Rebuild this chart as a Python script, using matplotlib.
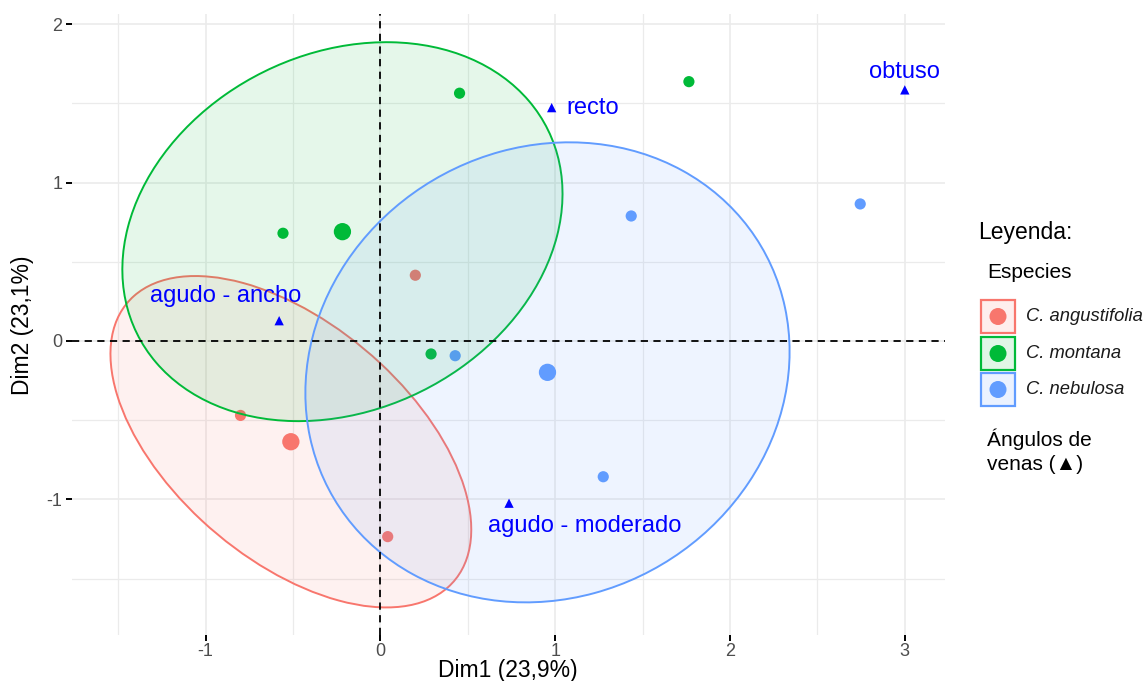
import numpy as np
import matplotlib
matplotlib.use('Agg')
import matplotlib.pyplot as plt
from matplotlib.patches import Ellipse, Rectangle

plt.rcParams['font.family'] = ['Liberation Sans', 'DejaVu Sans']

# ---------------- data ----------------
species = ['C. angustifolia', 'C. montana', 'C. nebulosa']
colors = ['#F8766D', '#00BA38', '#619CFF']

ang_x = [-0.80, 0.042, 0.20]
ang_y = [-0.47, -1.235, 0.415]
mon_x = [-0.557, 0.453, 1.765, 0.29]
mon_y = [0.68, 1.564, 1.637, -0.082]
neb_x = [0.428, 1.275, 1.435, 2.745]
neb_y = [-0.093, -0.857, 0.789, 0.865]

centroid_x = [-0.512, -0.217, 0.956]
centroid_y = [-0.636, 0.690, -0.198]

# ellipse half-extents along x / y and correlation
ell_sx = [1.032, 1.259, 1.385]
ell_sy = [1.046, 1.196, 1.452]
ell_r = [-0.53, 0.20, 0.09]

angle_labels = ['agudo - ancho', 'recto', 'obtuso', 'agudo - moderado']
angle_x = [-0.579, 0.98, 3.0, 0.736]
angle_y = [0.128, 1.473, 1.585, -1.024]
label_x = [-0.883, 1.063, 3.0, 1.17]
label_y = [0.284, 1.473, 1.70, -1.168]
label_ha = ['center', 'left', 'center', 'center']

x_ticks = [-1, 0, 1, 2, 3]
y_ticks = [-1, 0, 1, 2]
x_minor = [-1.5, -0.5, 0.5, 1.5, 2.5]
y_minor = [-1.5, -0.5, 0.5, 1.5]

W, H = 1144, 681
fig = plt.figure(figsize=(W / 100, H / 100), dpi=100)
ax = fig.add_axes([72 / W, 46 / H, 873 / W, 621 / H])
ax.set_xlim(-1.764, 3.23)
ax.set_ylim(-1.856, 2.064)

# grid
for v in x_ticks:
    ax.axvline(v, color='#EBEBEB', lw=1.2, zorder=0)
for v in x_minor:
    ax.axvline(v, color='#EBEBEB', lw=0.9, zorder=0)
for v in y_ticks:
    ax.axhline(v, color='#EBEBEB', lw=1.2, zorder=0)
for v in y_minor:
    ax.axhline(v, color='#EBEBEB', lw=0.9, zorder=0)

for s in ax.spines.values():
    s.set_visible(False)
ax.set_xticks(x_ticks)
ax.set_yticks(y_ticks)
ax.set_xticklabels([str(t) for t in x_ticks])
ax.set_yticklabels([str(t) for t in y_ticks])
ax.tick_params(axis='both', length=4, width=1.4, color='black',
               labelsize=13, labelcolor='#4D4D4D', pad=3)
ax.tick_params(axis='x', pad=2)

# individuals
groups_x = [ang_x, mon_x, neb_x]
groups_y = [ang_y, mon_y, neb_y]
for gx, gy, c in zip(groups_x, groups_y, colors):
    ax.scatter(gx, gy, s=65, color=c, edgecolors='none', zorder=2)
ax.scatter(centroid_x, centroid_y, s=155, c=colors, edgecolors='none', zorder=2)

# ellipses
for cx, cy, sx, sy, r, c in zip(centroid_x, centroid_y, ell_sx, ell_sy, ell_r, colors):
    S = np.array([[sx * sx, r * sx * sy], [r * sx * sy, sy * sy]])
    vals, vecs = np.linalg.eigh(S)
    vmax = vecs[:, 1]
    ang = np.degrees(np.arctan2(vmax[1], vmax[0]))
    w = 2 * np.sqrt(vals[1])
    h = 2 * np.sqrt(vals[0])
    ax.add_patch(Ellipse((cx, cy), w, h, angle=ang, facecolor=c, alpha=0.1,
                         edgecolor='none', zorder=3))
    ax.add_patch(Ellipse((cx, cy), w, h, angle=ang, facecolor='none',
                         edgecolor=c, lw=1.4, zorder=3))

# reference lines
ax.axhline(0, color='black', lw=1.3, ls=(0, (4, 3)), zorder=4)
ax.axvline(0, color='black', lw=1.3, ls=(0, (4, 3)), zorder=4)

# vein angle categories
ax.scatter(angle_x, angle_y, marker='^', s=45, color='#0000FF', edgecolors='none', zorder=5)
for t, lx, ly, ha in zip(angle_labels, label_x, label_y, label_ha):
    ax.text(lx, ly, t, color='#0000FF', fontsize=17, ha=ha, va='center', zorder=6)

fig.text(508 / W, 1 - 670 / H, 'Dim1 (23,9%)', fontsize=16.5, ha='center', va='center')
fig.text(22 / W, 1 - 325 / H, 'Dim2 (23,1%)', fontsize=16.5, ha='center', va='center',
         rotation=90)

# ---------------- legend (pixel coordinates) ----------------
lg = fig.add_axes([0, 0, 1, 1], facecolor='none')
lg.set_xlim(0, W)
lg.set_ylim(H, 0)
lg.axis('off')
lg.text(978, 232, 'Leyenda:', fontsize=16.5, va='center', ha='left')
lg.text(987, 272, 'Especies', fontsize=15, va='center', ha='left')
key_top = [300, 337, 373]
for sp, c, top in zip(species, colors, key_top):
    lg.add_patch(Rectangle((981, top), 34, 33, facecolor=c, alpha=0.12, edgecolor='none'))
    lg.add_patch(Rectangle((981, top), 34, 33, facecolor='none', edgecolor=c, lw=1.6))
    lg.scatter([998], [top + 16.5], s=150, color=c, edgecolors='none')
    lg.text(1026, top + 16.5, sp, fontsize=13.2, style='italic', color='#1A1A1A',
            va='center', ha='left')
lg.text(987, 451, 'Ángulos de\nvenas (▲)', fontsize=15, va='center', ha='left',
        linespacing=1.3)

fig.savefig('out.png', dpi=100)
